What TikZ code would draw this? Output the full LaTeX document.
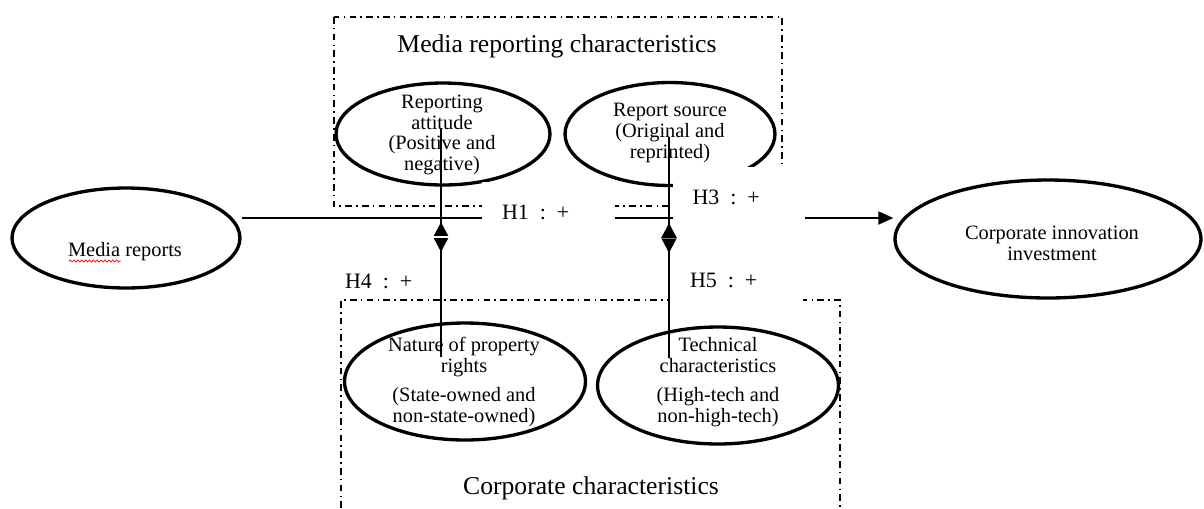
\documentclass[tikz,border=0pt]{standalone}
\usepackage{fontspec}
\setmainfont{Liberation Serif}
\usepackage{tikz}
\usetikzlibrary{positioning,shapes.geometric,arrows.meta,decorations.pathmorphing}
\newcommand{\ellfont}{\fontsize{11.6pt}{11.8pt}\selectfont}
\newcommand{\headfont}{\fontsize{14.6pt}{16pt}\selectfont}
\newcommand{\hypfont}{\fontsize{12.5pt}{14pt}\selectfont}
\tikzset{every node/.style={font=\ellfont}}

\begin{document}
\begin{tikzpicture}[
  x=0.02cm, y=-0.02cm,
  concept/.style={draw, ellipse, line width=1.9pt, inner sep=0pt},
  caption/.style={align=center, inner sep=0pt},
  group/.style={line width=0.9pt, dash pattern=on 3.8pt off 2.4pt on 0.9pt off 2.4pt},
  link/.style={line width=1.1pt},
  hyp/.style={fill=white, text width=1.86cm, inner xsep=0.4cm,
    minimum height=1.2cm, align=left, font=\hypfont},
  gate/.style={diamond, fill, draw=none, minimum width=0.32cm,
    minimum height=0.6cm, inner sep=0pt}
]
\useasboundingbox (0,0) rectangle (1204,508);

% dash-dot groups
\draw[group] (334,17) rectangle (782,206);
\draw[group] (341,508) -- (341,300) -- (840,300) -- (840,508);

\node (media-grp) [font=\headfont] at (557,46) {Media reporting characteristics};
\node (corp-grp) [font=\headfont] at (591,488) {Corporate characteristics};

% variables
\node[concept, minimum width=4.56cm, minimum height=2cm] (media) at (126,238) {};
\node[caption] (media-txt) at (125,252) {Media reports};
\draw[red, line width=0.4pt, decorate,
  decoration={snake, amplitude=0.6pt, segment length=2.2pt}] (69,261) -- (121,261);

\node[concept, minimum width=4.28cm, minimum height=2.04cm] (attitude) at (443,134) {};
\node[caption] (attitude-txt) at (442,135) {Reporting\\attitude\\(Positive and\\negative)};

\node[concept, minimum width=4.2cm, minimum height=2.06cm] (source) at (670,134) {};
\node[caption] (source-txt) at (670,133) {Report source\\(Original and\\reprinted)};

\node[concept, minimum width=4.82cm, minimum height=2.34cm] (property) at (465,381.5) {};
\node[caption] (property-txt) at (464,382) {Nature of property\\rights\\[0.17cm](State-owned and\\non-state-owned)};

\node[concept, minimum width=4.82cm, minimum height=2.34cm] (tech) at (718,385.5) {};
\node[caption] (tech-txt) at (718,382) {Technical\\characteristics\\[0.17cm](High-tech and\\non-high-tech)};

\node[concept, minimum width=6.12cm, minimum height=2.36cm] (innov) at (1048,239) {};
\node[caption] (innov-txt) at (1052,243) {Corporate innovation\\investment};

% main path
\coordinate (mainy) at (0,218);
\draw[link, -{Triangle[length=0.3cm, width=0.26cm]}] (media.east |- mainy) -- (innov.west |- mainy);

% hypotheses
\node[hyp] (h1) at (548.5,212) {H1\enspace:\enspace+};
\node[hyp] (h3) at (739,197) {H3\enspace:\enspace+};
\node[hyp, fill=none] (h4) at (391.5,281) {H4\enspace:\enspace+};
\node[hyp] (h5) at (736.5,280) {H5\enspace:\enspace+};

% moderators
\coordinate (att-in) at (441,128);
\coordinate (prop-in) at (441,357);
\coordinate (src-in) at (669,137);
\coordinate (tech-in) at (669,358);
\draw[link] (att-in) -- (prop-in);
\draw[link] (src-in) -- (tech-in);

\node[gate] (gate-l) at (441,237) {};
\node[gate] (gate-r) at (669,238) {};
\draw[white, line width=0.8pt] (gate-l.west) -- (gate-l.east);
\draw[gray, line width=0.3pt] (gate-r.west) -- (gate-r.east);

\end{tikzpicture}
\end{document}
